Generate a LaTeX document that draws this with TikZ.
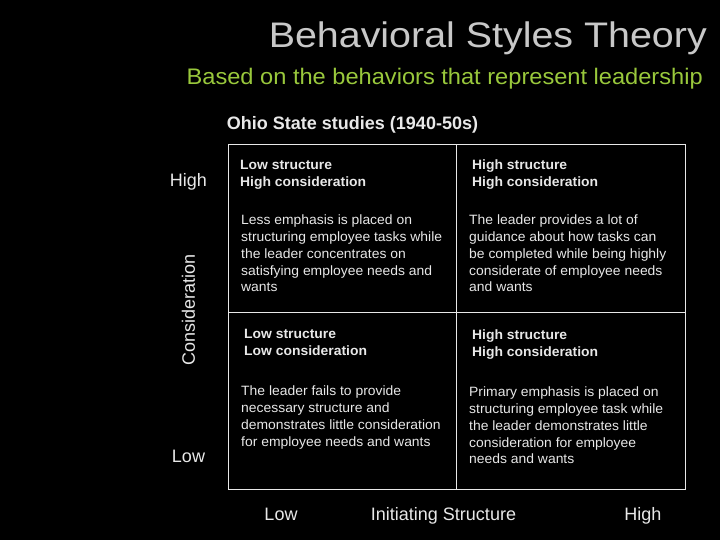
\documentclass[tikz,border=0pt]{standalone}
\usepackage{fontspec}
\setmainfont{Liberation Sans}
\newfontfamily\TitleFamily[FakeStretch=1.11]{Liberation Sans}
\newfontfamily\SubFamily[FakeStretch=1.05]{Liberation Sans}
\newfontfamily\CellFamily[FakeStretch=1.03]{Liberation Sans}
\usetikzlibrary{positioning}
\definecolor{TitleGrey}{RGB}{200,200,200}
\definecolor{SubGreen}{RGB}{153,200,60}
\definecolor{TextWhite}{RGB}{232,232,232}
\newcommand{\CellFont}{\CellFamily\fontsize{13.5}{16.7}\selectfont}
\newcommand{\AxisFont}{\fontsize{18}{20}\selectfont}
\tikzset{Cell/.style={
    inner sep=0pt,
    outer sep=0pt,
    minimum width=228pt,
    draw=TextWhite,
    line width=1pt
    }
}
\tikzset{CellHead/.style={
    inner sep=0pt,
    align=left,
    text=TextWhite,
    font=\CellFont\bfseries
    }
}
\tikzset{CellBody/.style={
    inner sep=0pt,
    align=left,
    text=TextWhite,
    font=\CellFont
    }
}
\tikzset{AxisLabel/.style={
    inner sep=0pt,
    anchor=base,
    text=TextWhite,
    font=\AxisFont
    }
}

\begin{document}
\begin{tikzpicture}[x=1pt, y=-1pt]
    \fill[black] (0,0) rectangle (720,540);
    \useasboundingbox (0,0) rectangle (720,540);

    % titles
    \node (title) [inner sep=0pt, anchor=base east, text=TitleGrey, font=\TitleFamily\fontsize{35.5}{40}\selectfont] at (707,47.5) {Behavioral Styles Theory};
    \node (subtitle) [inner sep=0pt, anchor=base east, text=SubGreen, font=\SubFamily\fontsize{22.5}{26}\selectfont] at (703,85) {Based on the behaviors that represent leadership};
    \node (ohio) [inner sep=0pt, anchor=base, text=TextWhite, font=\fontsize{18}{20}\selectfont\bfseries] at (352.5,130) {Ohio State studies (1940-50s)};

    % the four cells
    \node (TL) [Cell, minimum height=167pt] at (342,228.5) {};
    \node (TR) [Cell, minimum height=167pt, minimum width=229pt, right=0pt of TL] {};
    \node (BL) [Cell, minimum height=177pt, below=0pt of TL] {};
    \node (BR) [Cell, minimum height=177pt, minimum width=229pt, below=0pt of TR] {};

    \node (TLhead) [CellHead, below right=15pt and 12pt of TL.north west] {Low structure\\High consideration};
    \node (TLbody) [CellBody, below right=70pt and 13pt of TL.north west] {Less emphasis is placed on\\structuring employee tasks while\\the leader concentrates on\\satisfying employee needs and\\wants};

    \node (TRhead) [CellHead, below right=15pt and 16pt of TR.north west] {High structure\\High consideration};
    \node (TRbody) [CellBody, below right=70pt and 13pt of TR.north west] {The leader provides a lot of\\guidance about how tasks can\\be completed while being highly\\considerate of employee needs\\and wants};

    \node (BLhead) [CellHead, below right=17.5pt and 16pt of BL.north west] {Low structure\\Low consideration};
    \node (BLbody) [CellBody, below right=74pt and 13pt of BL.north west] {The leader fails to provide\\necessary structure and\\demonstrates little consideration\\for employee needs and wants};

    \node (BRhead) [CellHead, below right=18pt and 16pt of BR.north west] {High structure\\High consideration};
    \node (BRbody) [CellBody, below right=75pt and 13pt of BR.north west] {Primary emphasis is placed on\\structuring employee task while\\the leader demonstrates little\\consideration for employee\\needs and wants};

    % axes
    \node (yHigh) [AxisLabel] at (188.5,186.5) {High};
    \node (yLow) [AxisLabel] at (188.5,462.5) {Low};
    \node (yName) [AxisLabel, anchor=center, rotate=90] at (188.5,310) {Consideration};
    \node (xLow) [AxisLabel] at (281,520.5) {Low};
    \node (xName) [AxisLabel] at (443.5,520.5) {Initiating Structure};
    \node (xHigh) [AxisLabel] at (643,520.5) {High};
\end{tikzpicture}
\end{document}
